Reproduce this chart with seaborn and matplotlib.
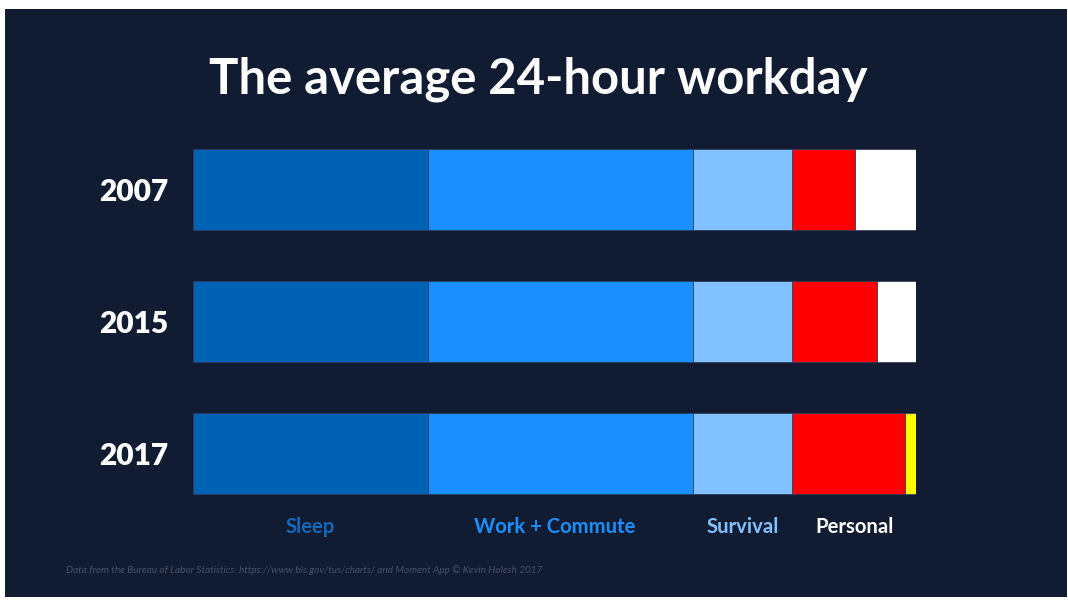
import matplotlib
matplotlib.use("Agg")
import matplotlib.pyplot as plt
from matplotlib.patches import Rectangle
import seaborn as sns
import pandas as pd
import numpy as np

years = ["2007", "2015", "2017"]
segments = ["Sleep", "Work + Commute", "Survival", "Personal", "Free"]
sleep = [7.8, 7.8, 7.8]
work = [8.8, 8.8, 8.8]
survival = [3.3, 3.3, 3.3]
personal = [2.06, 2.82, 3.72]
free = [2.04, 1.28, 0.38]
colors = ["#0062b4", "#1a8fff", "#80c1ff", "#ff0000", None]
free_colors = ["#ffffff", "#ffffff", "#ffff00"]
label_colors = ["#1468b8", "#1a8fff", "#80c1ff", "#ffffff"]

title = "The average 24-hour workday"
footnote = ("Data from the Bureau of Labor Statistics: https://www.bls.gov/tus/charts/ "
            "and Moment App \u00a9 Kevin Holesh 2017")

W, H = 1068, 603
BG = "#111c32"
sns.set_theme(style="white")
plt.rcParams["font.family"] = ["Lato", "DejaVu Sans"]

fig = plt.figure(figsize=(W / 100, H / 100), dpi=100, facecolor="white")
fig.patches.append(Rectangle((5 / W, 1 - 597 / H), 1062 / W, 588 / H,
                             transform=fig.transFigure, facecolor=BG,
                             edgecolor="none", zorder=-10))

ax = fig.add_axes([193 / W, 1 - 519 / H, 723 / W, 396 / H])
ax.set_zorder(5)
ax.patch.set_alpha(0)

df = pd.DataFrame({"year": years, "Sleep": sleep, "Work + Commute": work,
                   "Survival": survival, "Personal": personal, "Free": free})
cum = df[segments].cumsum(axis=1)

bw = 81 / 132
# draw from longest cumulative to shortest
for i in range(len(segments) - 1, -1, -1):
    seg = segments[i]
    d = pd.DataFrame({"year": years, "val": cum[seg].values})
    if seg == "Free":
        sns.barplot(data=d, x="val", y="year", hue="year", palette=free_colors,
                    legend=False, orient="h", width=bw, ax=ax,
                    edgecolor="#3a4560", linewidth=0.6, saturation=1)
    else:
        sns.barplot(data=d, x="val", y="year", color=colors[i], orient="h",
                    width=bw, ax=ax, edgecolor="#2a3a58", linewidth=0.6,
                    saturation=1)

ax.set_xlim(0, 24)
ax.set_ylim(2.5, -0.5)
ax.set_xlabel("")
ax.set_ylabel("")
ax.set_xticks([])
for s in ax.spines.values():
    s.set_visible(False)
ax.tick_params(axis="y", length=0, pad=18)
ax.set_yticks(range(len(years)))
ax.set_yticklabels(years)
for t in ax.get_yticklabels():
    t.set_fontfamily(["Lato", "DejaVu Sans"])
    t.set_fontweight("heavy")
    t.set_fontsize(21.5)
    t.set_color("white")

# category labels centered under segments
starts = np.concatenate([[0], np.cumsum([sleep[0], work[0], survival[0]])])
centers = [(starts[0] + starts[1]) / 2, (starts[1] + starts[2]) / 2 - 0.18,
           (starts[2] + starts[3]) / 2, (starts[3] + 24) / 2]
for lab, cx, c in zip(segments[:4], centers, label_colors):
    ax.text(cx, 2 + (527 - 453) / 132, lab, ha="center", va="center",
            color=c, fontsize=14.6, fontweight="bold", clip_on=False)

fig.text(538 / W, 1 - 79 / H, title, ha="center", va="center", color="white",
         fontsize=35.3, fontweight="bold")
fig.text(66 / W, 1 - 570 / H, footnote, ha="left", va="center",
         color="#46526a", fontsize=7.2, style="italic")

fig.savefig("out.png", dpi=100, facecolor="white")
